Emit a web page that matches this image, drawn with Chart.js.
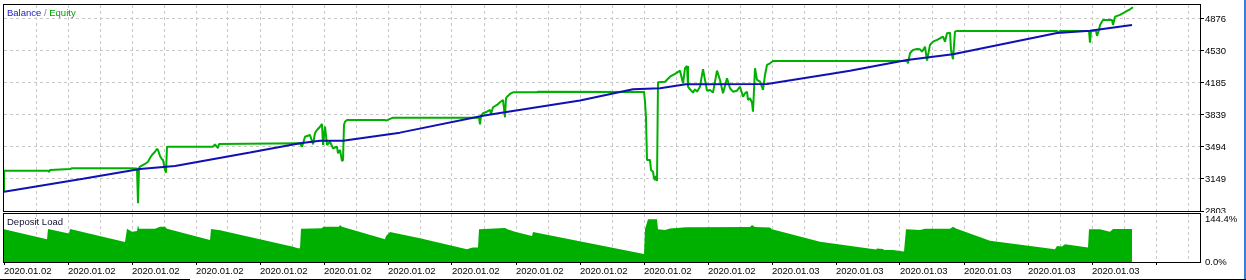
<!DOCTYPE html>
<html><head><meta charset="utf-8">
<script src="https://cdn.jsdelivr.net/npm/chart.js@4/dist/chart.umd.min.js"></script>
<style>
html,body{margin:0;padding:0;background:#fff;}
#wrap{position:relative;width:1246px;height:280px;overflow:hidden;background:#fff;}
canvas{position:absolute;left:0;}
#c1{top:0;} #c2{top:213px;}
</style></head><body>
<div id="wrap"><canvas id="c1" width="1246" height="213"></canvas><canvas id="c2" width="1246" height="67"></canvas></div>
<script>
// ---------- data ----------
const xLabels = ['2020.01.02','2020.01.02','2020.01.02','2020.01.02','2020.01.02','2020.01.02',
                 '2020.01.02','2020.01.02','2020.01.02','2020.01.02','2020.01.02','2020.01.02',
                 '2020.01.03','2020.01.03','2020.01.03','2020.01.03','2020.01.03','2020.01.03'];
const yTickValues = [2803, 3148.5, 3494, 3839.5, 4185, 4530.5, 4876];
const yTickLabels = ['2803','3149','3494','3839','4185','4530','4876'];
const loadTickValues = [0, 144.4];
const loadTickLabels = ['0.0%','144.4%'];

// [time step, balance]
const balance = [[0,3011],[79,3150],[136,3257],[171,3289],[246,3435],[296,3534],[316,3562],[339,3562],
  [396,3649],[479,3832],[496,3861],[576,3996],[629,4117],[656,4128],[682,4171],[763,4174],[826,4283],
  [846,4318],[903,4434],[949,4495],[1053,4725],[1086,4750],[1128,4812]];

// [time step, equity]
const equity = [[0,3011],[0,3238],[44,3238],[45,3224],[46,3246],[66,3257],[68,3264],[124,3264],[133,3262],
  [134,2886],[135,3267],[136,3281],[141,3311],[144,3335],[146,3375],[148,3408],[151,3443],[153,3473],
  [154,3462],[156,3397],[158,3361],[159,3354],[161,3246],[162,3217],[163,3497],[209,3497],[211,3523],
  [214,3483],[215,3527],[296,3534],[298,3497],[301,3605],[306,3624],[309,3523],[311,3645],[313,3678],
  [316,3713],[318,3743],[319,3516],[321,3713],[323,3516],[326,3551],[329,3480],[333,3497],[334,3426],
  [336,3462],[338,3343],[339,3354],[340,3732],[341,3767],[343,3786],[381,3786],[382,3778],[389,3811],
  [475,3811],[476,3739],[477,3829],[479,3858],[483,3875],[486,3894],[487,3851],[489,3923],[493,3948],
  [496,3977],[499,4002],[501,3815],[502,4020],[503,4037],[506,4067],[509,4085],[533,4085],[534,4091],
  [640,4088],[641,3983],[642,3807],[643,3354],[646,3354],[647,3246],[649,3227],[650,3159],[651,3138],
  [652,3181],[653,3127],[654,4193],[661,4199],[666,4253],[671,4283],[673,4297],[676,4318],[679,4182],
  [681,4344],[683,4369],[684,4145],[686,4117],[689,4081],[691,4117],[693,4091],[696,4145],[699,4333],
  [701,4218],[703,4102],[706,4110],[709,4081],[713,4318],[716,4218],[719,4074],[723,4236],[726,4128],
  [729,4091],[733,4102],[736,4145],[739,4037],[741,4074],[743,4091],[744,4002],[746,4020],[748,3973],
  [749,3875],[751,4344],[753,4218],[756,4199],[759,4110],[761,4272],[763,4380],[766,4398],[769,4423],
  [903,4423],[904,4398],[906,4506],[909,4542],[913,4553],[916,4549],[918,4523],[921,4577],[923,4426],
  [926,4596],[929,4631],[933,4650],[936,4668],[939,4685],[941,4631],[943,4722],[946,4729],[947,4542],
  [949,4441],[951,4739],[953,4747],[1053,4747],[1054,4722],[1056,4747],[1085,4747],[1086,4621],
  [1087,4747],[1089,4750],[1092,4750],[1093,4693],[1095,4757],[1096,4812],[1099,4866],[1108,4866],
  [1109,4812],[1111,4901],[1116,4920],[1119,4938],[1123,4963],[1126,4981],[1129,5003]];

// [time step, deposit load %]
const depositLoad = [[0,110],[43,76],[44,111],[65,96],[66,111],[121,67],[123,112],[128,102],[133,104],
  [134,124],[135,112],[151,112],[156,118.5],[161,118.5],[163,112],[206,74],[207,111],[216,107],[289,51],
  [294,46],[296,46],[297,112],[318,113],[319,118.5],[335,118.5],[336,124],[338,118.5],[381,76],[382,87],
  [386,101],[416,80],[463,43],[466,46],[469,49],[474,49],[475,110],[501,114],[504,109],[511,102],[528,87],
  [529,101],[640,27],[641,110],[644,143.4],[653,143.4],[654,110],[661,107.5],[666,112.5],[682,116.5],
  [746,117.5],[748,124],[751,117.5],[766,116],[768,110],[816,68],[872,42],[873,45],[879,44],[880,40],
  [889,40],[900,35],[902,110],[916,107.5],[921,112],[946,112],[949,118.5],[952,112.5],[986,71.5],
  [1051,43],[1053,54],[1058,52],[1061,60],[1084,49],[1085,110],[1096,110],[1099,107.5],[1106,102],
  [1109,111],[1128,111],[1128,0]];

// ---------- scale settings ----------
const X_MAX = 1196, X_STEP = 32;
const Y_MIN = 2803, Y_MAX = 5027;
const LOAD_MAX = 161.2;
const GREEN = '#00b000', BLUE = '#1010b4', GRID = '#c8c8c8', CLEAR = 'rgba(0,0,0,0)';
const xTickValues = [];
for (let v = 0; v < X_MAX; v += X_STEP) xTickValues.push(v);

Chart.defaults.font.family = '"Liberation Sans", Arial, sans-serif';
Chart.defaults.font.size = 9.5;
Chart.defaults.color = '#000';
Chart.defaults.animation = false;

function xScale(showLabels) {
  return {
    type: 'linear', min: 0, max: X_MAX,
    afterBuildTicks: s => { s.ticks = xTickValues.map(v => ({ value: v })); },
    afterFit: s => { s.height = showLabels ? 18 : 0; s.paddingLeft = 0; s.paddingRight = 0; },
    grid: { color: c => c.index === 0 ? CLEAR : GRID, drawTicks: showLabels, tickLength: 3,
            tickColor: c => (c.index % 2 === 0 ? '#000' : CLEAR), tickBorderDash: [] },
    border: { display: false, dash: [3, 3] },
    ticks: { display: showLabels, autoSkip: false, maxRotation: 0, minRotation: 0, align: 'start', padding: 1,
             callback: (v, i) => (i % 2 === 0 && xLabels[i / 2]) ? xLabels[i / 2] : '' }
  };
}

function framePlugin(drawExtra) {
  return {
    id: 'frame',
    afterDraw(chart) {
      const { ctx, chartArea: a } = chart;
      ctx.save();
      ctx.strokeStyle = '#000'; ctx.lineWidth = 1; ctx.setLineDash([]);
      ctx.strokeRect(a.left - 0.5, a.top - 0.5, a.right - a.left + 1, a.bottom - a.top + 1);
      ctx.fillStyle = '#3a7fd5';
      ctx.fillRect(1244, 0, 2, chart.height);
      drawExtra(ctx, chart);
      ctx.restore();
    }
  };
}

new Chart(document.getElementById('c1'), {
  type: 'line',
  data: { datasets: [
    { label: 'Balance', data: balance.map(([x, y]) => ({ x, y })), borderColor: BLUE, borderWidth: 2,
      pointRadius: 0, tension: 0, borderJoinStyle: 'bevel', fill: false },
    { label: 'Equity', data: equity.map(([x, y]) => ({ x, y })), borderColor: GREEN, borderWidth: 2,
      pointRadius: 0, tension: 0, borderJoinStyle: 'bevel', fill: false }
  ]},
  options: {
    responsive: false, devicePixelRatio: 1,
    layout: { padding: { left: 4, top: 5, right: 0, bottom: 2 } },
    plugins: { legend: { display: false }, tooltip: { enabled: false } },
    scales: {
      x: xScale(false),
      y: {
        position: 'right', min: Y_MIN, max: Y_MAX,
        afterBuildTicks: s => { s.ticks = yTickValues.map(v => ({ value: v })); },
        afterFit: s => { s.width = 46; s.paddingTop = 0; s.paddingBottom = 0; },
        grid: { color: c => c.index === 0 ? CLEAR : GRID, tickLength: 4, tickColor: '#000', tickBorderDash: [] },
        border: { display: false, dash: [3, 3] },
        ticks: { padding: 1, autoSkip: false, callback: (v, i) => yTickLabels[i] }
      }
    }
  },
  plugins: [framePlugin((ctx) => {
    ctx.font = '9.5px "Liberation Sans", Arial, sans-serif';
    ctx.textBaseline = 'middle';
    let x = 7;
    const parts = [['Balance', '#2020c0'], [' / ', '#808080'], ['Equity', '#00a000']];
    for (const [t, c] of parts) { ctx.fillStyle = c; ctx.fillText(t, x, 13); x += ctx.measureText(t).width; }
  })]
});

new Chart(document.getElementById('c2'), {
  type: 'line',
  data: { datasets: [
    { label: 'Deposit Load', data: depositLoad.map(([x, y]) => ({ x, y })), borderWidth: 0, borderColor: GREEN,
      backgroundColor: GREEN, fill: 'origin', pointRadius: 0, tension: 0 }
  ]},
  options: {
    responsive: false, devicePixelRatio: 1,
    layout: { padding: { left: 4, top: 1, right: 0, bottom: 0 } },
    plugins: { legend: { display: false }, tooltip: { enabled: false } },
    scales: {
      x: xScale(true),
      y: {
        position: 'right', min: 0, max: LOAD_MAX,
        afterBuildTicks: s => { s.ticks = loadTickValues.map(v => ({ value: v })); },
        afterFit: s => { s.width = 46; s.paddingTop = 0; s.paddingBottom = 0; },
        grid: { drawOnChartArea: false, tickLength: 4, tickColor: CLEAR },
        border: { display: false },
        ticks: { padding: 1, autoSkip: false, callback: (v, i) => loadTickLabels[i] }
      }
    }
  },
  plugins: [framePlugin((ctx) => {
    ctx.font = '9.5px "Liberation Sans", Arial, sans-serif';
    ctx.textBaseline = 'middle';
    ctx.fillStyle = '#101030';
    ctx.fillText('Deposit Load', 7, 9);
    ctx.fillStyle = '#000';
    ctx.fillRect(0, 66, 190, 1);
    ctx.fillRect(239, 66, 1007, 1);
  })]
});
</script>
</body></html>
